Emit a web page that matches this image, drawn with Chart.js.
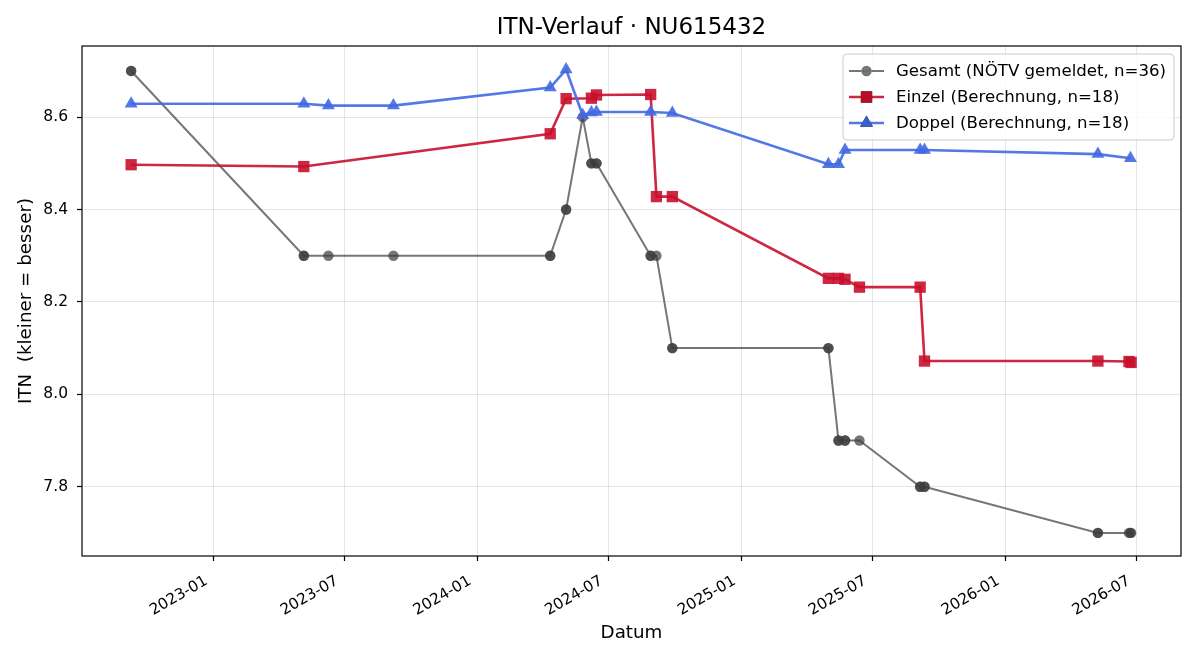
<!DOCTYPE html>
<html><head><meta charset="utf-8">
<script src="https://cdn.jsdelivr.net/npm/chart.js@4.4.1/dist/chart.umd.min.js"></script>
<style>html,body{margin:0;padding:0;background:#fff}#wrap{width:1200px;height:660px}</style>
</head><body><div id="wrap"><canvas id="c" width="1200" height="660"></canvas></div>
<script>
const titleText = 'ITN-Verlauf · NU615432';
const xAxisTitle = 'Datum';
const yAxisTitle = 'ITN  (kleiner = besser)';

const gesamtLabel = 'Gesamt (NÖTV gemeldet, n=36)';
const gesamtDates = ['2022-09-09','2022-09-09','2023-05-06','2023-05-06','2023-06-09','2023-09-07',
  '2024-04-11','2024-04-11','2024-05-03','2024-05-03','2024-05-26','2024-06-07','2024-06-07',
  '2024-06-14','2024-06-14','2024-08-28','2024-08-28','2024-09-05','2024-09-27','2024-09-27',
  '2025-05-01','2025-05-01','2025-05-15','2025-05-15','2025-05-24','2025-05-24','2025-06-13',
  '2025-09-05','2025-09-05','2025-09-11','2025-09-11','2026-05-09','2026-05-09','2026-06-21',
  '2026-06-23','2026-06-24'];
const gesamtValues = [8.7,8.7,8.3,8.3,8.3,8.3,
  8.3,8.3,8.4,8.4,8.6,8.5,8.5,
  8.5,8.5,8.3,8.3,8.3,8.1,8.1,
  8.1,8.1,7.9,7.9,7.9,7.9,7.9,
  7.8,7.8,7.8,7.8,7.7,7.7,7.7,
  7.7,7.7];

const einzelLabel = 'Einzel (Berechnung, n=18)';
const einzelDates = ['2022-09-09','2023-05-06','2024-04-11','2024-05-03','2024-06-07','2024-06-14',
  '2024-08-28','2024-09-05','2024-09-27','2025-05-01','2025-05-15','2025-05-24','2025-06-13',
  '2025-09-05','2025-09-11','2026-05-09','2026-06-21','2026-06-24'];
const einzelValues = [8.497,8.493,8.564,8.640,8.641,8.648,
  8.649,8.428,8.428,8.251,8.251,8.249,8.232,
  8.232,8.072,8.072,8.071,8.069];

const doppelLabel = 'Doppel (Berechnung, n=18)';
const doppelDates = ['2022-09-09','2023-05-06','2023-06-09','2023-09-07','2024-04-11','2024-05-03',
  '2024-05-26','2024-06-07','2024-06-14','2024-08-28','2024-09-27','2025-05-01','2025-05-15',
  '2025-05-24','2025-09-05','2025-09-11','2026-05-09','2026-06-23'];
const doppelValues = [8.629,8.629,8.625,8.625,8.664,8.703,
  8.604,8.610,8.611,8.611,8.609,8.498,8.498,
  8.529,8.529,8.529,8.520,8.511];

const xTickDates = ['2023-01-01','2023-07-01','2024-01-01','2024-07-01','2025-01-01','2025-07-01','2026-01-01','2026-07-01'];
const yTickValues = [7.8, 8.0, 8.2, 8.4, 8.6];
const xMinDate = '2022-07-03';
const xMaxDate = '2026-09-01';
const yMin = 7.65, yMax = 8.754;

const FONT = "'DejaVu Sans', 'Liberation Sans', sans-serif";
Chart.defaults.font.family = FONT;
Chart.defaults.color = '#000';

function pts(dates, vals) { return dates.map((d, i) => ({ x: Date.parse(d), y: vals[i] })); }
function fmt(v) { const d = new Date(v); return d.getUTCFullYear() + '-' + String(d.getUTCMonth() + 1).padStart(2, '0'); }

const styles = [
  { label: gesamtLabel, color: 'rgba(60,60,60,0.7)', lw: 2, style: 'circle', r: 5.2 },
  { label: einzelLabel, color: 'rgba(200,16,46,0.9)', lw: 2.6, style: 'rect', r: 8 },
  { label: doppelLabel, color: 'rgba(65,105,225,0.9)', lw: 2.6, style: 'triangle', r: 7.5 }
];

const framePlugin = {
  id: 'frame',
  afterDatasetsDraw(chart) {
    const { ctx, chartArea: a } = chart;
    ctx.save();
    ctx.strokeStyle = '#000';
    ctx.lineWidth = 1.2;
    ctx.strokeRect(a.left, a.top, a.right - a.left, a.bottom - a.top);
    ctx.restore();
  },
  afterDraw(chart) {
    const ctx = chart.ctx;
    ctx.save();
    ctx.fillStyle = '#000';
    ctx.font = '23px ' + FONT;
    ctx.textAlign = 'center';
    ctx.textBaseline = 'middle';
    const a = chart.chartArea;
    ctx.fillText(titleText, (a.left + a.right) / 2, 28);
    const bx = 843, by = 54, bw = 331, bh = 86, rr = 4;
    ctx.beginPath();
    ctx.moveTo(bx + rr, by);
    ctx.arcTo(bx + bw, by, bx + bw, by + bh, rr);
    ctx.arcTo(bx + bw, by + bh, bx, by + bh, rr);
    ctx.arcTo(bx, by + bh, bx, by, rr);
    ctx.arcTo(bx, by, bx + bw, by, rr);
    ctx.closePath();
    ctx.fillStyle = 'rgba(255,255,255,0.8)';
    ctx.fill();
    ctx.strokeStyle = '#cccccc';
    ctx.lineWidth = 1;
    ctx.stroke();
    const rows = [71, 97, 123];
    styles.forEach((s, i) => {
      const y = rows[i];
      ctx.beginPath();
      ctx.strokeStyle = s.color;
      ctx.lineWidth = s.lw;
      ctx.moveTo(849, y); ctx.lineTo(884, y);
      ctx.stroke();
      Chart.helpers.drawPoint(ctx, { pointStyle: s.style, radius: s.r, rotation: 0, borderWidth: 0 }, 866.5, y);
      ctx.fillStyle = s.color;
      ctx.fill();
      ctx.fillStyle = '#000';
      ctx.font = '16.6px ' + FONT;
      ctx.textAlign = 'left';
      ctx.textBaseline = 'middle';
      ctx.fillText(s.label, 896, y + 1);
    });
    ctx.restore();
  }
};

const series = [
  pts(gesamtDates, gesamtValues),
  pts(einzelDates, einzelValues),
  pts(doppelDates, doppelValues)
];

const datasets = styles.map((s, i) => ({
  label: s.label,
  data: series[i],
  borderColor: s.color,
  backgroundColor: s.color,
  borderWidth: s.lw,
  pointStyle: s.style,
  pointRadius: s.r,
  pointBorderWidth: 0,
  pointBorderColor: 'rgba(0,0,0,0)',
  pointBackgroundColor: s.color,
  tension: 0,
  order: 3 - i,
  clip: false
}));

new Chart(document.getElementById('c'), {
  type: 'line',
  data: { datasets },
  options: {
    responsive: false,
    devicePixelRatio: 1,
    animation: false,
    events: [],
    layout: { padding: { left: 0, right: 19, top: 46, bottom: 0 } },
    plugins: { legend: { display: false }, tooltip: { enabled: false }, title: { display: false } },
    scales: {
      x: {
        type: 'linear',
        min: Date.parse(xMinDate),
        max: Date.parse(xMaxDate),
        afterBuildTicks(scale) { scale.ticks = xTickDates.map(d => ({ value: Date.parse(d) })); },
        afterFit(scale) { scale.height = 104; },
        ticks: {
          autoSkip: false, minRotation: 30, maxRotation: 30, padding: 11, labelOffset: -7,
          font: { size: 15.3 }, color: '#000',
          callback: (v) => fmt(v)
        },
        grid: { color: 'rgba(0,0,0,0.1)', lineWidth: 1, drawTicks: true, tickLength: 5, tickColor: '#000', tickWidth: 1.2 },
        border: { display: false },
        title: { display: true, text: xAxisTitle, font: { size: 18.3 }, color: '#000', padding: { top: 0, bottom: 16 } }
      },
      y: {
        type: 'linear',
        min: yMin,
        max: yMax,
        afterBuildTicks(scale) { scale.ticks = yTickValues.map(v => ({ value: v })); },
        afterFit(scale) { scale.width = 82; },
        ticks: { padding: 9, font: { size: 15.5 }, color: '#000', callback: (v) => v.toFixed(1) },
        grid: { color: 'rgba(0,0,0,0.1)', lineWidth: 1, drawTicks: true, tickLength: 5, tickColor: '#000', tickWidth: 1.2 },
        border: { display: false },
        title: { display: true, text: yAxisTitle, font: { size: 18.3 }, color: '#000', padding: { top: 15, bottom: 0 } }
      }
    }
  },
  plugins: [framePlugin]
});
</script>
</body></html>
